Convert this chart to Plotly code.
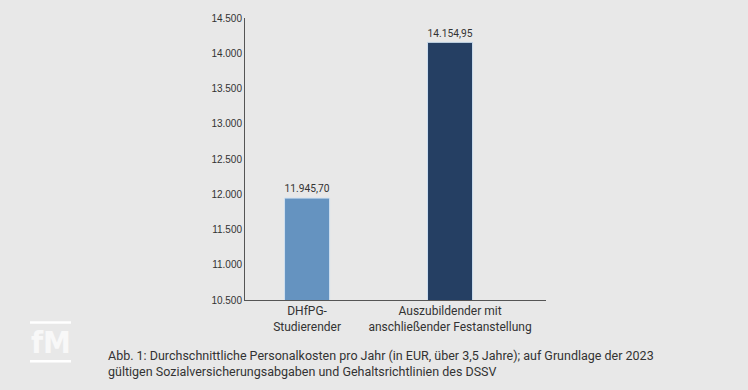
import plotly.graph_objects as go

categories = ["DHfPG-<br>Studierender", "Auszubildender mit<br>anschließender Festanstellung"]
values = [11945.70, 14154.95]
colors = ["#6593c0", "#253f63"]
y_ticks = [10500, 11000, 11500, 12000, 12500, 13000, 13500, 14000, 14500]
caption = ("Abb. 1: Durchschnittliche Personalkosten pro Jahr (in EUR, über 3,5 Jahre); auf Grundlage der 2023<br>"
           "gültigen Sozialversicherungsabgaben und Gehaltsrichtlinien des DSSV")

W, H = 748, 390
L, R, T, B = 245, 546, 16, 300

fig = go.Figure(go.Bar(
    x=categories, y=values,
    marker=dict(color=colors, line=dict(color="#cfe0f0", width=1)),
    width=0.315,
    texttemplate="%{y:,.2f}", textposition="outside",
    textfont=dict(size=11, color="#333333", family="Roboto, Arial"),
    cliponaxis=False,
))

def px(x):
    return (x - L) / (R - L)

def py(y):
    return (B - y) / (B - T)

fig.update_layout(
    width=W, height=H,
    margin=dict(l=L, r=W - R, t=T, b=H - B, pad=0),
    paper_bgcolor="#e8e8e8", plot_bgcolor="#e8e8e8",
    separators=",.",
    showlegend=False,
    font=dict(family="Roboto, Arial", color="#333333"),
    xaxis=dict(range=[-0.434, 1.671], showline=True, linecolor="#555555", linewidth=1,
               ticks="", tickfont=dict(size=12, color="#333333"), showgrid=False, zeroline=False),
    yaxis=dict(range=[10500, 14500], tickvals=y_ticks, tickformat=",.0f", showline=True,
               linecolor="#555555", linewidth=1, ticks="", showgrid=False, zeroline=False,
               tickfont=dict(size=10, color="#333333", family="Arial, Liberation Sans")),
    annotations=[
        dict(text=caption, xref="paper", yref="paper", x=px(106), y=py(346), xanchor="left", yanchor="top",
             align="left", showarrow=False, font=dict(size=12.5, color="#333333", family="Roboto, Arial")),
        dict(text="<b>fM</b>", xref="paper", yref="paper", x=px(50.5), y=py(342.5), xanchor="center", yanchor="middle",
             showarrow=False, font=dict(size=31, color="#f8f8f8", family="DejaVu Sans Condensed, DejaVu Sans")),
    ],
    shapes=[
        dict(type="rect", xref="paper", yref="paper", x0=px(30), x1=px(71), y0=py(321.5), y1=py(324),
             line=dict(width=0), fillcolor="#ffffff", layer="above"),
        dict(type="rect", xref="paper", yref="paper", x0=px(30), x1=px(71), y0=py(360.5), y1=py(363),
             line=dict(width=0), fillcolor="#ffffff", layer="above"),
    ],
)

fig.write_html("out.html", config={"displayModeBar": False},
               post_script="document.body.style.margin='0';document.body.style.overflow='hidden';")
